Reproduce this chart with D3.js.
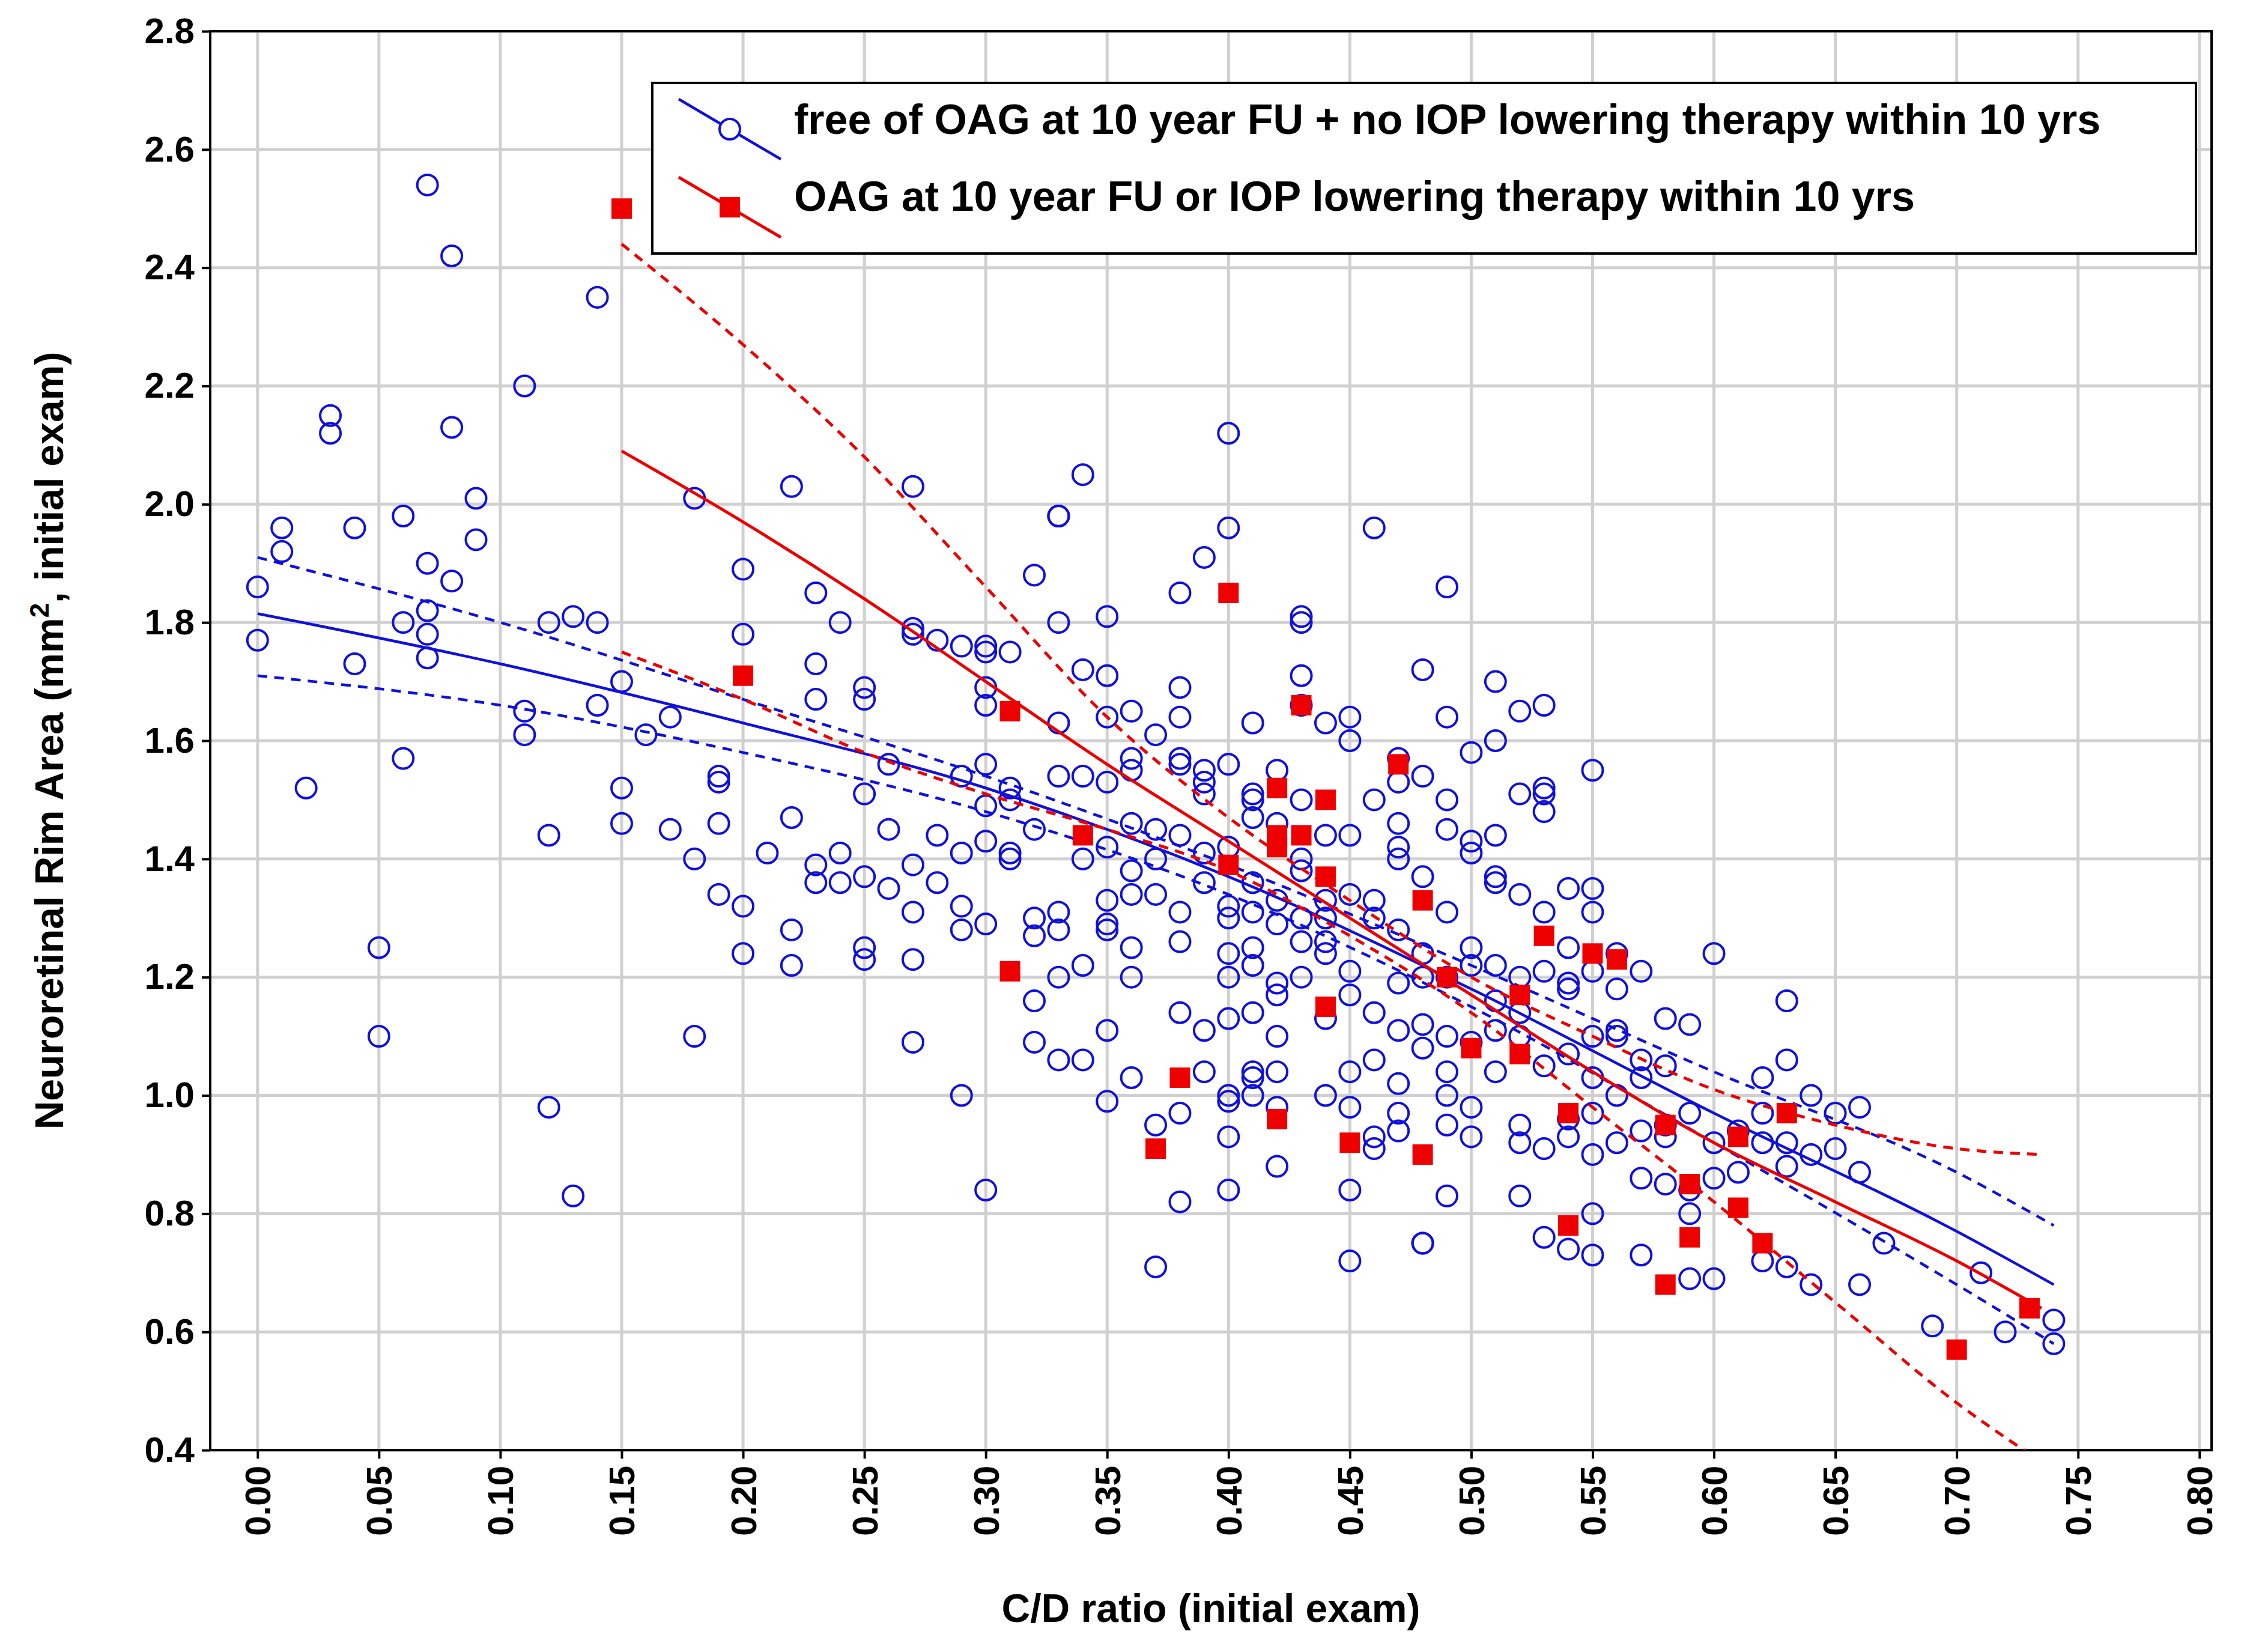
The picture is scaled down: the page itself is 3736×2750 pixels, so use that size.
<!DOCTYPE html>
<html><head><meta charset="utf-8">
<script src="https://cdn.jsdelivr.net/npm/d3@7"></script>
<style>body{margin:0;background:#fff}</style></head>
<body><svg id="c" width="3736" height="2750"></svg>
<script>
const xTicks=[0,0.05,0.1,0.15,0.2,0.25,0.3,0.35,0.4,0.45,0.5,0.55,0.6,0.65,0.7,0.75,0.8];
const yTicks=[0.4,0.6,0.8,1.0,1.2,1.4,1.6,1.8,2.0,2.2,2.4,2.6,2.8];
const legendLabels=["free of OAG at 10 year FU + no IOP lowering therapy within 10 yrs","OAG at 10 year FU or IOP lowering therapy within 10 yrs"];
const blueX=[0.00,0.00,0.01,0.01,0.03,0.03,0.04,0.04,0.02,0.05,0.05,0.06,0.06,0.06,0.07,0.07,0.07,0.07,0.08,0.08,0.07,0.08,0.09,0.09,0.11,0.11,0.11,0.12,0.12,0.13,0.14,0.14,0.14,0.15,0.15,0.15,0.16,0.12,0.13,0.17,0.17,0.18,0.18,0.18,0.19,0.19,0.19,0.19,0.20,0.20,0.20,0.20,0.21,0.22,0.22,0.22,0.22,0.23,0.23,0.23,0.23,0.23,0.24,0.24,0.24,0.25,0.25,0.25,0.25,0.25,0.25,0.26,0.26,0.26,0.27,0.27,0.27,0.27,0.27,0.27,0.27,0.28,0.28,0.28,0.29,0.29,0.29,0.29,0.29,0.29,0.30,0.30,0.30,0.30,0.30,0.30,0.30,0.30,0.30,0.31,0.31,0.31,0.31,0.31,0.32,0.32,0.32,0.32,0.32,0.32,0.33,0.33,0.33,0.33,0.33,0.33,0.33,0.33,0.33,0.34,0.34,0.34,0.34,0.34,0.34,0.35,0.35,0.35,0.35,0.35,0.35,0.35,0.35,0.35,0.35,0.36,0.36,0.36,0.36,0.36,0.36,0.36,0.36,0.36,0.37,0.37,0.37,0.37,0.37,0.37,0.38,0.38,0.38,0.38,0.38,0.38,0.38,0.38,0.38,0.38,0.38,0.39,0.39,0.39,0.39,0.39,0.39,0.39,0.39,0.40,0.40,0.40,0.40,0.40,0.40,0.40,0.40,0.40,0.40,0.40,0.40,0.40,0.41,0.41,0.41,0.41,0.41,0.41,0.41,0.41,0.41,0.41,0.41,0.41,0.42,0.42,0.42,0.42,0.42,0.42,0.42,0.42,0.42,0.42,0.43,0.43,0.43,0.43,0.43,0.43,0.43,0.43,0.43,0.43,0.44,0.44,0.44,0.44,0.44,0.44,0.44,0.44,0.45,0.45,0.45,0.45,0.45,0.45,0.45,0.45,0.45,0.45,0.46,0.46,0.46,0.46,0.46,0.46,0.46,0.46,0.47,0.47,0.47,0.47,0.47,0.47,0.47,0.47,0.47,0.47,0.47,0.48,0.48,0.48,0.48,0.48,0.48,0.48,0.48,0.48,0.49,0.49,0.49,0.49,0.49,0.49,0.49,0.49,0.49,0.49,0.49,0.50,0.50,0.50,0.50,0.50,0.50,0.50,0.50,0.51,0.51,0.51,0.51,0.51,0.51,0.51,0.51,0.51,0.52,0.52,0.52,0.52,0.52,0.52,0.52,0.52,0.52,0.53,0.53,0.53,0.53,0.53,0.53,0.53,0.53,0.53,0.54,0.54,0.54,0.54,0.54,0.54,0.54,0.54,0.55,0.55,0.55,0.55,0.55,0.55,0.55,0.55,0.55,0.55,0.56,0.56,0.56,0.56,0.56,0.56,0.57,0.57,0.57,0.57,0.57,0.57,0.58,0.58,0.58,0.58,0.58,0.59,0.59,0.59,0.59,0.59,0.60,0.60,0.60,0.60,0.61,0.61,0.62,0.62,0.62,0.62,0.63,0.63,0.63,0.63,0.63,0.64,0.64,0.64,0.65,0.65,0.66,0.66,0.66,0.67,0.69,0.71,0.72,0.74,0.74];
const blueY=[1.86,1.77,1.92,1.96,2.12,2.15,1.96,1.73,1.52,1.25,1.10,1.57,1.80,1.98,1.90,1.74,1.78,2.54,2.13,1.87,1.82,2.42,1.94,2.01,2.20,1.61,1.65,1.44,1.80,1.81,1.80,2.35,1.66,1.70,1.52,1.46,1.61,0.98,0.83,1.64,1.45,1.40,2.01,1.10,1.54,1.53,1.46,1.34,1.89,1.78,1.32,1.24,1.41,2.03,1.28,1.47,1.22,1.39,1.36,1.73,1.85,1.67,1.36,1.80,1.41,1.37,1.67,1.69,1.51,1.25,1.23,1.35,1.56,1.45,2.03,1.79,1.78,1.39,1.23,1.09,1.31,1.44,1.77,1.36,1.54,1.76,1.41,1.32,1.28,1.00,1.75,1.76,1.66,1.56,1.49,1.69,1.43,1.29,0.84,1.52,1.50,1.40,1.41,1.75,1.45,1.88,1.27,1.09,1.16,1.30,1.31,1.28,1.20,1.06,1.80,1.54,1.98,1.98,1.63,1.22,1.06,1.72,2.05,1.40,1.54,1.53,1.71,1.42,1.33,1.29,1.28,1.11,0.99,1.81,1.64,1.57,1.55,1.46,1.65,1.03,1.20,1.25,1.34,1.38,1.61,1.40,1.45,1.34,0.95,0.71,1.85,1.69,1.64,1.56,1.57,1.44,1.31,1.26,1.14,0.82,0.97,1.36,1.41,1.51,1.53,1.91,1.55,1.11,1.04,1.96,1.42,1.30,1.32,1.24,1.20,1.13,1.00,0.99,0.93,0.84,1.56,2.12,1.51,1.50,1.47,1.63,1.36,1.31,1.25,1.22,1.14,1.04,1.03,1.00,1.46,1.33,1.29,1.19,1.17,1.10,1.04,0.88,0.98,1.55,1.50,1.38,1.30,1.26,1.20,1.71,1.66,1.80,1.81,1.40,1.63,1.44,1.33,1.26,1.24,1.13,1.00,1.30,1.64,1.60,1.44,1.34,1.21,1.17,1.04,0.98,0.72,0.84,1.96,1.50,1.33,1.30,1.06,0.93,0.91,1.14,1.57,1.53,1.46,1.42,1.40,1.28,1.19,1.11,1.02,0.97,0.94,1.72,1.54,1.37,1.24,1.20,1.08,0.75,0.75,1.12,1.86,1.64,1.50,1.45,1.31,1.20,1.10,1.04,1.00,0.83,0.95,1.58,1.43,1.41,1.25,1.22,1.09,0.98,0.93,1.70,1.60,1.44,1.36,1.22,1.16,1.11,1.04,1.37,1.65,1.34,1.20,1.14,1.10,0.92,0.83,0.95,1.51,1.51,1.48,1.31,1.21,1.05,0.91,0.76,1.66,1.52,1.35,1.25,1.19,1.18,1.07,0.96,0.74,0.93,1.35,1.31,1.21,1.10,1.03,0.97,0.90,0.80,0.73,1.55,1.18,1.11,1.00,0.92,1.24,1.10,1.21,1.06,0.94,0.86,0.73,1.03,1.05,0.93,0.95,0.85,1.13,1.12,0.84,0.80,0.69,0.97,0.86,1.24,0.92,0.69,0.87,0.94,1.03,0.92,0.72,0.97,1.16,0.88,0.92,0.71,1.06,1.00,0.90,0.68,0.91,0.97,0.98,0.87,0.68,0.75,0.61,0.70,0.60,0.62,0.58];
const redX=[0.15,0.20,0.31,0.31,0.34,0.37,0.38,0.40,0.40,0.42,0.42,0.42,0.42,0.43,0.43,0.44,0.44,0.44,0.45,0.47,0.48,0.49,0.48,0.50,0.52,0.52,0.53,0.54,0.54,0.55,0.56,0.58,0.58,0.59,0.59,0.61,0.61,0.62,0.63,0.70,0.73];
const redY=[2.50,1.71,1.65,1.21,1.44,0.91,1.03,1.85,1.39,1.44,1.42,1.52,0.96,1.66,1.44,1.50,1.37,1.15,0.92,1.56,1.33,1.20,0.90,1.08,1.07,1.17,1.27,0.97,0.78,1.24,1.23,0.95,0.68,0.85,0.76,0.93,0.81,0.75,0.97,0.57,0.64];
const blueFitX=[0,0.1,0.2,0.3,0.4,0.5,0.6,0.7,0.74];
const blueFit=[1.815,1.73,1.63,1.52,1.37,1.18,0.97,0.77,0.68];
const blueUpper=[1.91,1.80,1.67,1.54,1.39,1.22,1.04,0.87,0.78];
const blueLower=[1.71,1.66,1.58,1.48,1.34,1.15,0.92,0.68,0.58];
const redFitX=[0.15,0.2,0.25,0.3,0.35,0.4,0.45,0.5,0.55,0.6,0.65,0.7,0.735];
const redFit=[2.09,1.97,1.84,1.70,1.56,1.43,1.30,1.17,1.04,0.92,0.82,0.72,0.64];
const redUpper=[2.44,2.27,2.08,1.86,1.64,1.47,1.33,1.20,1.10,1.01,0.95,0.91,0.90];
const redLower=[1.75,1.67,1.58,1.51,1.45,1.38,1.27,1.14,0.98,0.82,0.65,0.48,0.38];

const svg=d3.select("#c");
const L=350,R=3682,T=52,B=2414;
const x=d3.scaleLinear().domain([-0.0195,0.805]).range([L,R]);
const y=d3.scaleLinear().domain([0.4,2.8]).range([B,T]);
const F="Liberation Sans, Arial, sans-serif";
svg.append("defs").append("clipPath").attr("id","cp").append("rect").attr("x",L).attr("y",T).attr("width",R-L).attr("height",B-T);
const g=svg.append("g");
g.selectAll(".gx").data(xTicks).join("line").attr("x1",d=>x(d)).attr("x2",d=>x(d)).attr("y1",T).attr("y2",B).attr("stroke","#d0d0d0").attr("stroke-width",5);
g.selectAll(".gy").data(yTicks).join("line").attr("y1",d=>y(d)).attr("y2",d=>y(d)).attr("x1",L).attr("x2",R).attr("stroke","#d0d0d0").attr("stroke-width",5);
const xa=svg.append("g").attr("transform",`translate(0,${B})`).call(d3.axisBottom(x).tickValues(xTicks).tickFormat(d3.format(".2f")).tickSize(14).tickPadding(10));
xa.selectAll("text").attr("transform","rotate(-90)").attr("text-anchor","end").attr("dx","-26").attr("dy","0.35em").attr("x",0).attr("y",0);
const ya=svg.append("g").attr("transform",`translate(${L},0)`).call(d3.axisLeft(y).tickValues(yTicks).tickFormat(d3.format(".1f")).tickSize(14).tickPadding(12));
[xa,ya].forEach(a=>{a.select(".domain").remove();a.selectAll("line").attr("stroke","#000").attr("stroke-width",4);a.selectAll("text").attr("font-family",F).attr("font-weight","bold").attr("font-size",60).attr("fill","#000");});
svg.append("rect").attr("x",L).attr("y",T).attr("width",R-L).attr("height",B-T).attr("fill","none").attr("stroke","#000").attr("stroke-width",4);
const pl=svg.append("g").attr("clip-path","url(#cp)");
const blue="#1010dd",red="#ee0000";
pl.selectAll(".b").data(blueX.map((v,i)=>[v,blueY[i]])).join("circle").attr("cx",d=>x(d[0])).attr("cy",d=>y(d[1])).attr("r",17).attr("fill","none").attr("stroke",blue).attr("stroke-width",4);
const line=(xs)=>d3.line().x((d,i)=>x(xs[i])).y(d=>y(d)).curve(d3.curveMonotoneX);
[[blueFit,null],[blueUpper,"16,12"],[blueLower,"16,12"]].forEach(([a,da])=>pl.append("path").attr("d",line(blueFitX)(a)).attr("fill","none").attr("stroke",blue).attr("stroke-width",4.5).attr("stroke-dasharray",da));
[[redFit,null],[redUpper,"16,12"],[redLower,"16,12"]].forEach(([a,da])=>pl.append("path").attr("d",line(redFitX)(a)).attr("fill","none").attr("stroke",red).attr("stroke-width",5).attr("stroke-dasharray",da));
pl.selectAll(".r").data(redX.map((v,i)=>[v,redY[i]])).join("rect").attr("x",d=>x(d[0])-17).attr("y",d=>y(d[1])-17).attr("width",34).attr("height",34).attr("fill",red);
const lg=svg.append("g");
lg.append("rect").attr("x",1086).attr("y",138).attr("width",2570).attr("height",284).attr("fill","#fff").attr("stroke","#000").attr("stroke-width",4);
lg.append("line").attr("x1",1130).attr("y1",165).attr("x2",1300).attr("y2",265).attr("stroke",blue).attr("stroke-width",4.5);
lg.append("circle").attr("cx",1215).attr("cy",215).attr("r",17).attr("fill","#fff").attr("stroke",blue).attr("stroke-width",4);
lg.append("line").attr("x1",1130).attr("y1",295).attr("x2",1300).attr("y2",395).attr("stroke",red).attr("stroke-width",5);
lg.append("rect").attr("x",1198).attr("y",328).attr("width",34).attr("height",34).attr("fill",red);
legendLabels.forEach((t,i)=>lg.append("text").attr("x",1322).attr("y",198+i*128).attr("dy","0.35em").attr("font-family",F).attr("font-weight","bold").attr("font-size",70).text(t));
svg.append("text").attr("x",(L+R)/2).attr("y",2700).attr("text-anchor","middle").attr("font-family",F).attr("font-weight","bold").attr("font-size",66).text("C/D ratio (initial exam)");
const yt=svg.append("text").attr("transform",`translate(105,${(T+B)/2}) rotate(-90)`).attr("text-anchor","middle").attr("font-family",F).attr("font-weight","bold").attr("font-size",66);
yt.append("tspan").text("Neuroretinal Rim Area (mm");
yt.append("tspan").attr("baseline-shift","super").attr("font-size",44).text("2");
yt.append("tspan").text(", initial exam)");
</script></body></html>
